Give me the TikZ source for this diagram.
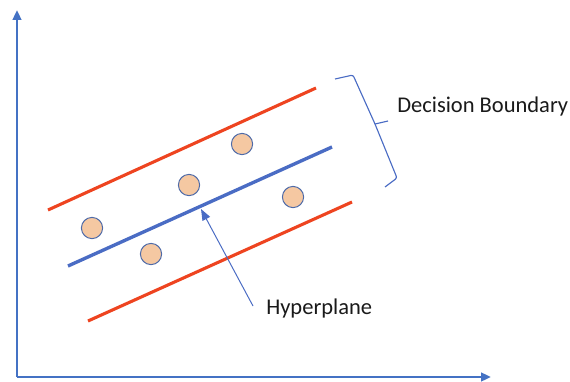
\documentclass[tikz,border=0pt]{standalone}
\usepackage{fontspec}
\setmainfont{Carlito}
\usepackage{xcolor}
\usetikzlibrary{arrows.meta}
\definecolor{axisblue}{HTML}{4472C4}
\definecolor{marginred}{HTML}{EE4420}
\definecolor{planeblue}{HTML}{4A6CC4}
\definecolor{pointfill}{HTML}{F5C8A2}
\definecolor{pointedge}{HTML}{4D6AA8}
\definecolor{labelgray}{HTML}{1A1A1A}
\tikzset{
	axisline/.style={axisblue, line width=1.8pt, -{Triangle[length=7pt,width=6pt]}},
	marginline/.style={marginred, line width=2.2pt},
	planeline/.style={planeblue, line width=2.4pt},
	datapoint/.style={circle, fill=pointfill, draw=pointedge, line width=0.7pt, minimum size=0.53cm, inner sep=0pt},
	tagtext/.style={font=\fontsize{16}{19}\selectfont, text=labelgray, inner sep=0pt},
}

\begin{document}
\begin{tikzpicture}[x=0.025cm,y=-0.025cm]
	% Canvas in pixel units, y pointing down.
	\path[use as bounding box] (0,0) rectangle (570,381);
	\fill[white] (0,0) rectangle (570,381);

	% Axes.
	\coordinate (origin) at (17,377);
	\coordinate (ytop) at (17,10);
	\coordinate (xend) at (491,377);
	\draw[axisline] (origin) -- (ytop);
	\draw[axisline] (origin) -- (xend);

	% Margins and separating hyperplane.
	\coordinate (upA) at (48,210);
	\coordinate (upB) at (316,88);
	\coordinate (midA) at (68,266);
	\coordinate (midB) at (332,147);
	\coordinate (lowA) at (88,321);
	\coordinate (lowB) at (352,202);
	\draw[marginline] (upA) -- (upB);
	\draw[marginline] (lowA) -- (lowB);
	\draw[planeline] (midA) -- (midB);

	% Data points.
	\foreach \name/\x/\y in {pa/92/228,pb/151/254,pc/189/185,pd/242/144,pe/293/197} {
		\node[datapoint] (\name) at (\x,\y) {};
	}

	% Hyperplane label with pointer.
	\node[tagtext, anchor=west] (hyp) at (266,308) {Hyperplane};
	\coordinate (hyptail) at (253,306);
	\coordinate (hyptip) at (201,209);
	\draw[planeblue, line width=0.7pt, -{Triangle[length=8pt,width=6pt]}] (hyptail) -- (hyptip);

	% Tilted square brace over the margin band.
	\coordinate (bracetip) at (375,124);
	\draw[planeblue, line width=0.8pt, rounded corners=1.5pt]
		(335,79) -- (353,75) -- (bracetip) -- (397,178) -- (385,187);
	\draw[planeblue, line width=0.8pt] (bracetip) -- (388,121);
	\node[tagtext, anchor=west] (dec) at (397,107) {Decision Boundary};
\end{tikzpicture}
\end{document}
